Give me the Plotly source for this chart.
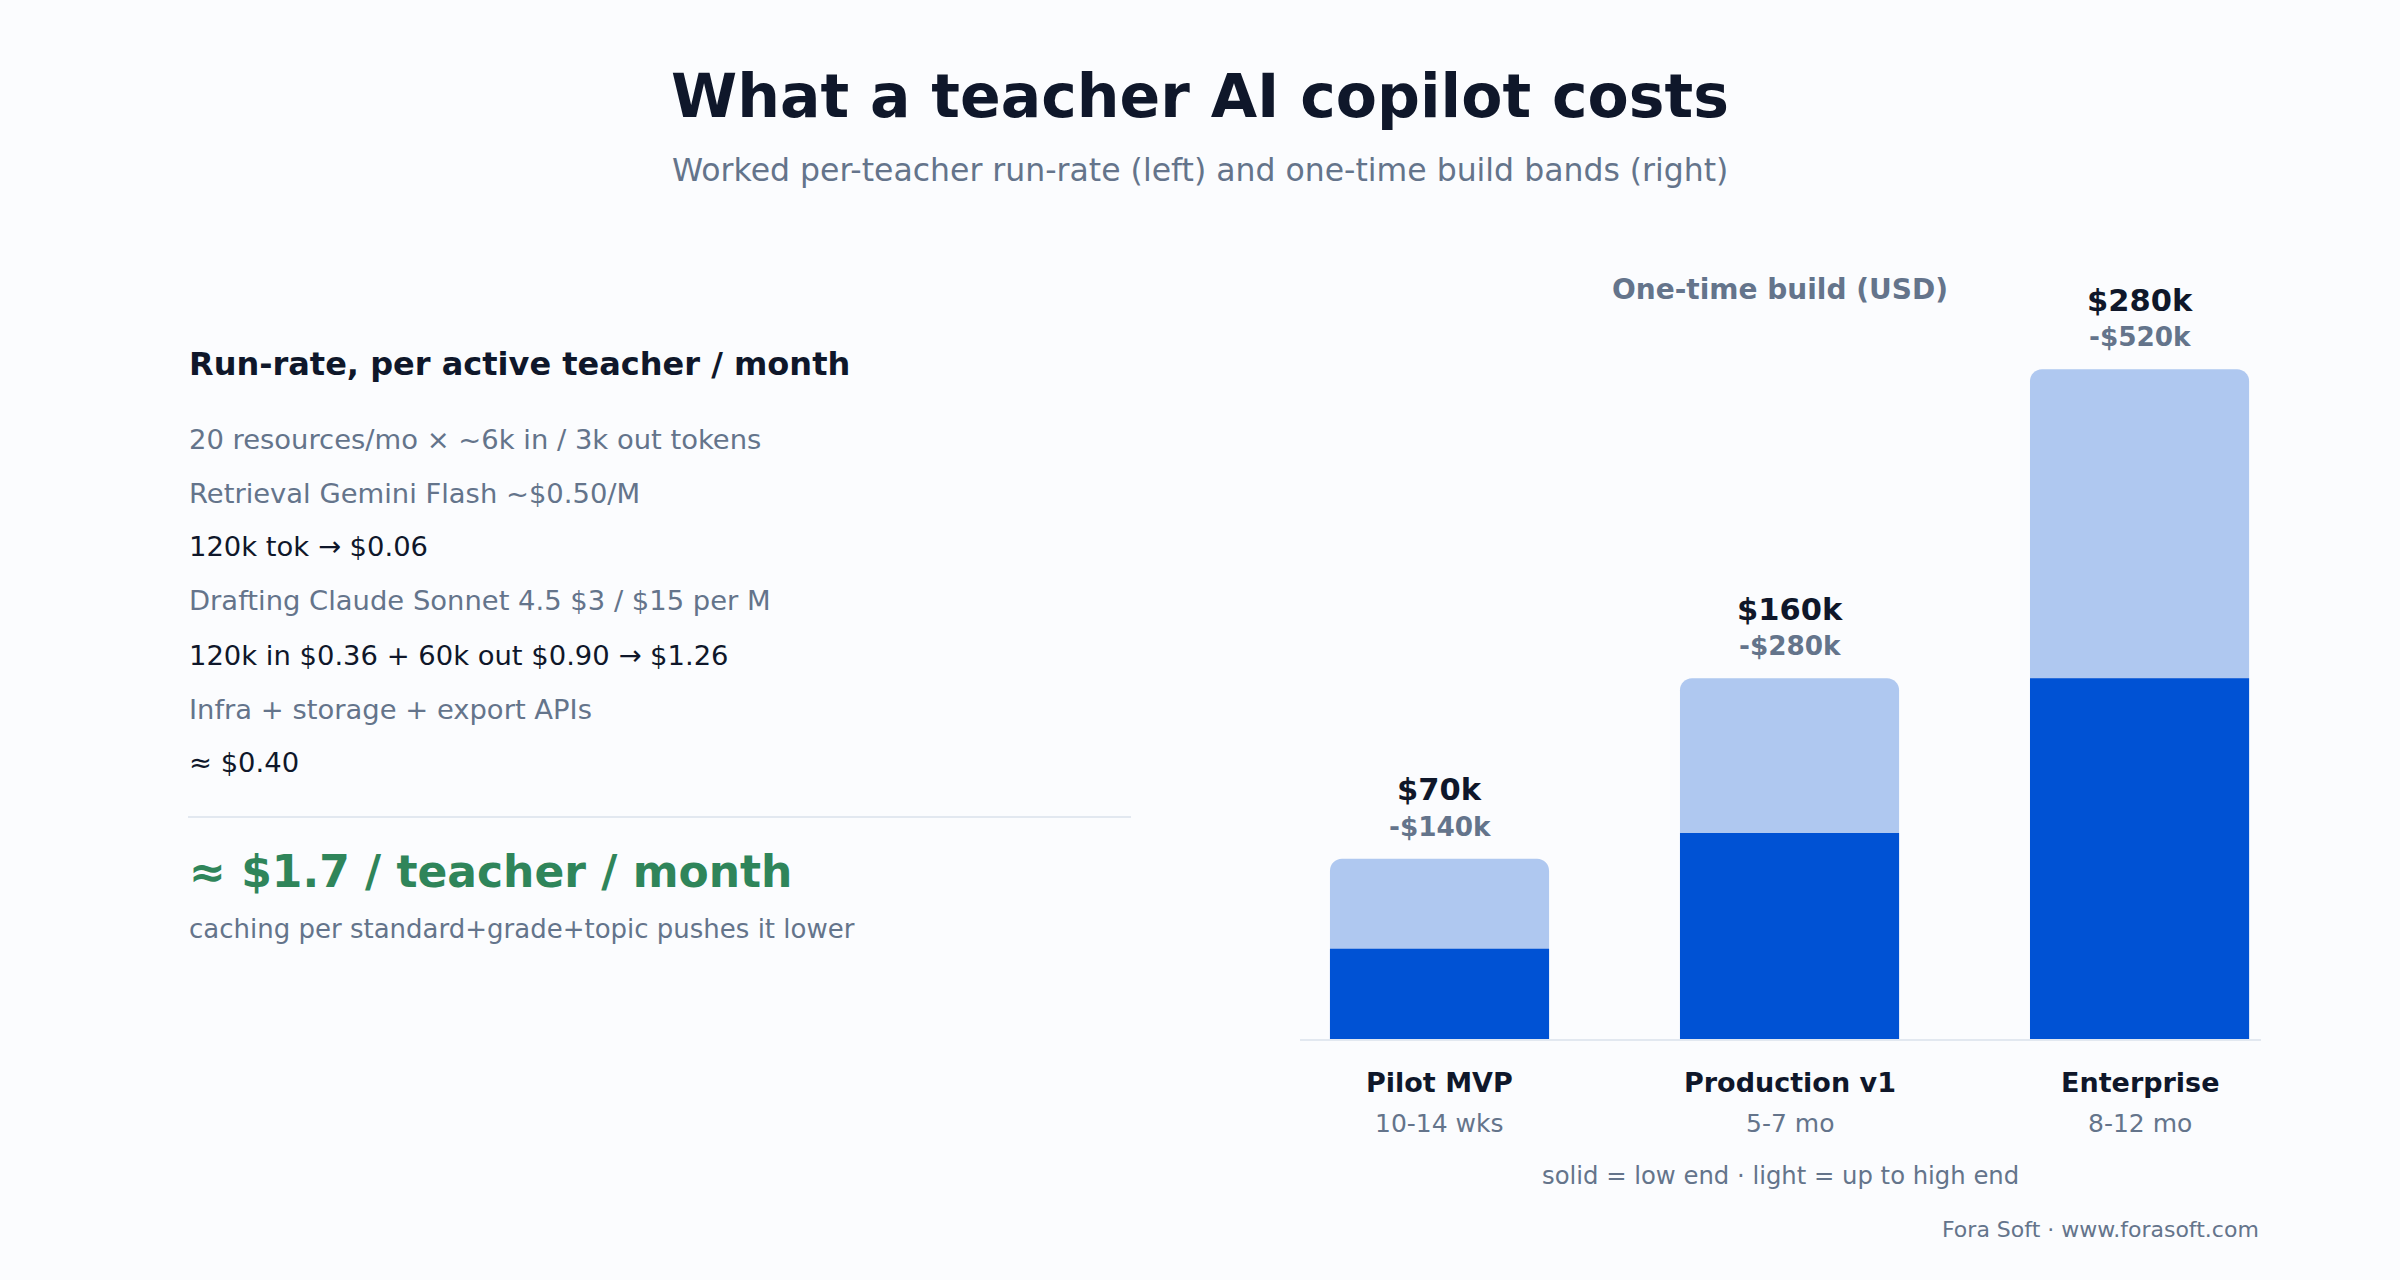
import plotly.graph_objects as go

W, H = 2400, 1280
FONT = "DejaVu Sans"
DARK = "#0f172a"
GREY = "#64748b"
GREEN = "#2f855a"
SOLID = "#0052d4"
LIGHT = "#afc8f0"
BG = "#fbfcfe"
RULE = "#e2e8f0"

# ---- data ----
tiers = ["Pilot MVP", "Production v1", "Enterprise"]
durations = ["10-14 wks", "5-7 mo", "8-12 mo"]
low_k = [70, 160, 280]
high_k = [140, 280, 520]

runrate_lines = [
    "20 resources/mo × ~6k in / 3k out tokens",
    "Retrieval Gemini Flash ~$0.50/M",
    "120k tok → $0.06",
    "Drafting Claude Sonnet 4.5 $3 / $15 per M",
    "120k in $0.36 + 60k out $0.90 → $1.26",
    "Infra + storage + export APIs",
    "≈ $0.40",
]
runrate_is_result = [False, False, True, False, True, False, True]
total_text = "≈ $1.7 / teacher / month"
total_note = "caching per standard+grade+topic pushes it lower"


def py(px):
    return 1 - px / H


def px_x(px):
    return px / W


fig = go.Figure()
fig.add_trace(go.Bar(x=tiers, y=high_k, width=0.626,
                     marker=dict(color=LIGHT, cornerradius=12, line_width=0),
                     hoverinfo="skip", showlegend=False))
fig.add_trace(go.Bar(x=tiers, y=low_k, width=0.626,
                     marker=dict(color=SOLID, cornerradius=12, line_width=0),
                     hoverinfo="skip", showlegend=False))

ann = []
# title
ann.append(dict(xref="paper", yref="paper", x=0.5, y=py(96), text="<b>What a teacher AI copilot costs</b>",
                showarrow=False, xanchor="center", yanchor="middle", font=dict(size=60, color=DARK)))
ann.append(dict(xref="paper", yref="paper", x=0.5, y=py(170),
                text="Worked per-teacher run-rate (left) and one-time build bands (right)",
                showarrow=False, xanchor="center", yanchor="middle", font=dict(size=31.5, color=GREY)))

# left panel
LX = px_x(187)
ann.append(dict(xref="paper", yref="paper", x=LX, y=py(364), text="<b>Run-rate, per active teacher / month</b>",
                showarrow=False, xanchor="left", yanchor="middle", font=dict(size=32, color=DARK)))
line_y = [439, 493, 546, 600, 655, 709, 762]
for t, res, yy in zip(runrate_lines, runrate_is_result, line_y):
    ann.append(dict(xref="paper", yref="paper", x=LX, y=py(yy), text=t,
                    showarrow=False, xanchor="left", yanchor="middle",
                    font=dict(size=27.4, color=DARK if res else GREY)))
ann.append(dict(xref="paper", yref="paper", x=LX, y=py(871), text=f"<b>{total_text}</b>",
                showarrow=False, xanchor="left", yanchor="middle", font=dict(size=44, color=GREEN)))
ann.append(dict(xref="paper", yref="paper", x=LX, y=py(929), text=total_note,
                showarrow=False, xanchor="left", yanchor="middle", font=dict(size=26, color=GREY)))

# right panel header / footers
ann.append(dict(xref="paper", yref="paper", x=px_x(1780), y=py(289), text="<b>One-time build (USD)</b>",
                showarrow=False, xanchor="center", yanchor="middle", font=dict(size=28, color=GREY)))
ann.append(dict(xref="paper", yref="paper", x=px_x(1780), y=py(1175), text="solid = low end · light = up to high end",
                showarrow=False, xanchor="center", yanchor="middle", font=dict(size=24.3, color=GREY)))
ann.append(dict(xref="paper", yref="paper", x=px_x(2261), y=py(1229), text="Fora Soft · www.forasoft.com",
                showarrow=False, xanchor="right", yanchor="middle", font=dict(size=22, color=GREY)))

# bar labels
for t, d, lo, hi in zip(tiers, durations, low_k, high_k):
    ann.append(dict(xref="x", yref="y", x=t, y=hi, yshift=69, text=f"<b>${lo}k</b>",
                    showarrow=False, xanchor="center", yanchor="middle", font=dict(size=30.5, color=DARK)))
    ann.append(dict(xref="x", yref="y", x=t, y=hi, yshift=32, text=f"<b>-${hi}k</b>",
                    showarrow=False, xanchor="center", yanchor="middle", font=dict(size=26.3, color=GREY)))
    ann.append(dict(xref="x", yref="y", x=t, y=0, yshift=-43, text=f"<b>{t}</b>",
                    showarrow=False, xanchor="center", yanchor="middle", font=dict(size=27, color=DARK)))
    ann.append(dict(xref="x", yref="y", x=t, y=0, yshift=-84, text=d,
                    showarrow=False, xanchor="center", yanchor="middle", font=dict(size=25, color=GREY)))

shapes = [dict(type="line", xref="paper", yref="paper", x0=px_x(188), x1=px_x(1131), y0=py(817), y1=py(817),
               line=dict(color=RULE, width=2))]

fig.update_layout(
    width=W, height=H,
    margin=dict(l=0, r=0, t=0, b=0),
    paper_bgcolor=BG, plot_bgcolor=BG,
    font=dict(family=FONT, color=DARK),
    barmode="overlay",
    annotations=ann,
    shapes=shapes,
    xaxis=dict(domain=[px_x(1300), px_x(2261)], type="category", range=[-0.3986, 2.347],
               showticklabels=False, showgrid=False, zeroline=False, ticks="",
               showline=True, linecolor=RULE, linewidth=2),
    yaxis=dict(domain=[py(1039), py(1039 - 600 * 1.288)], range=[0, 600],
               showticklabels=False, showgrid=False, zeroline=False, ticks="", showline=False),
)

fig.write_html("out.html")
